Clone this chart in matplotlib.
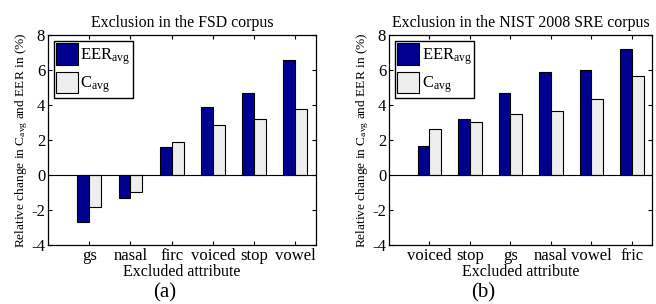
import matplotlib
matplotlib.use("Agg")
import matplotlib.pyplot as plt
import numpy as np

plt.rcParams["font.family"] = "Liberation Serif"
plt.rcParams["mathtext.fontset"] = "custom"
plt.rcParams["mathtext.rm"] = "Liberation Serif"
plt.rcParams["mathtext.it"] = "Liberation Serif:italic"
plt.rcParams["axes.unicode_minus"] = False

# FSD corpus
fsd_labels = ["gs", "nasal", "firc", "voiced", "stop", "vowel"]
fsd_eer = [-2.7, -1.3, 1.6, 3.9, 4.7, 6.55]
fsd_cavg = [-1.85, -0.95, 1.9, 2.85, 3.2, 3.8]

# NIST 2008 SRE corpus
nist_labels = ["voiced", "stop", "gs", "nasal", "vowel", "fric"]
nist_eer = [1.63, 3.2, 4.7, 5.88, 6.0, 7.22]
nist_cavg = [2.62, 3.05, 3.5, 3.67, 4.35, 5.68]

eer_color = "#000090"
cavg_color = "#EEEEEE"
W, H = 656, 304

fig = plt.figure(figsize=(W / 100, H / 100), dpi=100)


def panel(left, right, title, labels, eer, cavg, caption, cap_x):
    ax = fig.add_axes([left / W, 1 - 245 / H, (right - left) / W, 210 / H])
    x = np.arange(1, len(labels) + 1)
    bw = 0.29
    ax.bar(x - bw / 2, eer, bw, color=eer_color, edgecolor="black", linewidth=0.8,
           label=r"EER$_{\mathrm{avg}}$")
    ax.bar(x + bw / 2, cavg, bw, color=cavg_color, edgecolor="black", linewidth=0.8,
           label=r"C$_{\mathrm{avg}}$")
    ax.axhline(0, color="black", linewidth=0.8)
    ax.set_xlim(0, 6.5)
    ax.set_ylim(-4, 8)
    ax.set_yticks(range(-4, 9, 2))
    ax.set_xticks(x)
    ax.set_xticklabels(labels)
    ax.tick_params(direction="in", top=True, right=True, length=3, labelsize=12, pad=2)
    for s in ax.spines.values():
        s.set_linewidth(0.9)
    ax.set_title(title, fontsize=11.4, pad=6)
    ax.set_xlabel("Excluded attribute", fontsize=11.5, labelpad=0)
    ax.set_ylabel(r"Relative change in C$_{\mathrm{avg}}$ and EER in (%)", fontsize=9.6, labelpad=1)
    leg = ax.legend(loc="upper left", fontsize=12, fancybox=False, edgecolor="black",
                    framealpha=1, borderpad=0.15, labelspacing=0.3, handlelength=1.3,
                    handleheight=1.6, handletextpad=0.15, borderaxespad=0.35)
    leg.get_frame().set_linewidth(1.0)
    fig.text(cap_x / W, 1 - 293 / H, caption, fontsize=15, ha="center", va="center")
    return ax


panel(48, 316, "Exclusion in the FSD corpus", fsd_labels, fsd_eer, fsd_cavg, "(a)", 165)
panel(389, 652, "Exclusion in the NIST 2008 SRE corpus", nist_labels, nist_eer, nist_cavg,
      "(b)", 483)

fig.savefig("out.png", dpi=100)
